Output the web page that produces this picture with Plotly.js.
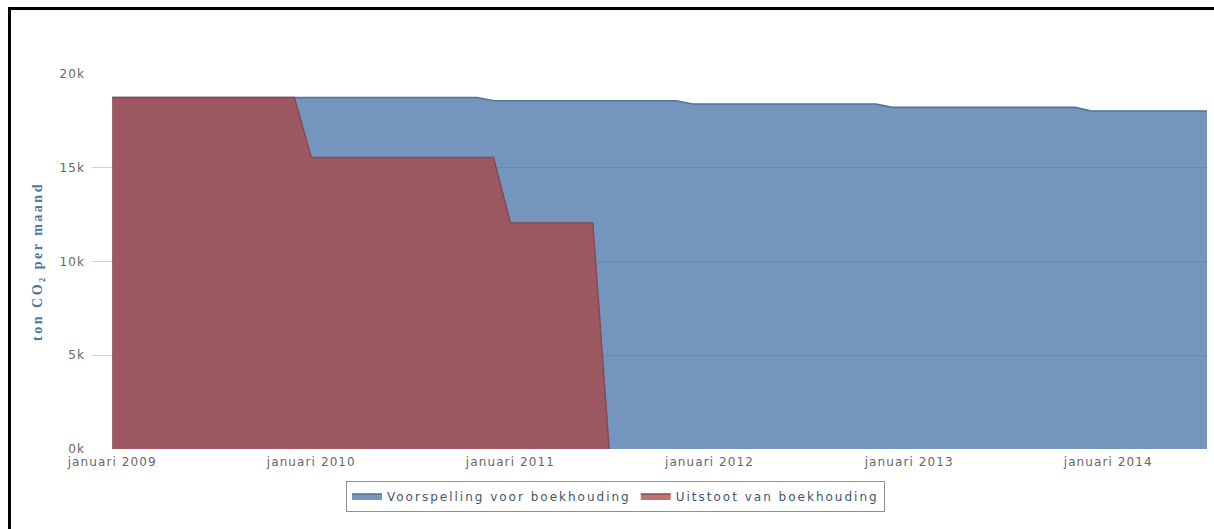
<!DOCTYPE html>
<html>
<head>
<meta charset="utf-8">
<script src="https://cdn.plot.ly/plotly-3.0.1.min.js"></script>
<style>
  html, body { margin: 0; padding: 0; background: #fff; overflow: hidden; }
  #wrap { position: relative; width: 1214px; height: 529px; overflow: hidden; }
  #chart { position: absolute; left: 0; top: 0; width: 1214px; height: 529px; }
  #frame { position: absolute; left: 8px; top: 7px; width: 1400px; height: 700px;
           border-left: 3px solid #000; border-top: 3px solid #000; pointer-events: none; }
  .ytitle { letter-spacing: 2.5px; }
  .xtick text, .ytick text { letter-spacing: 1.1px; }
  .legendtext { letter-spacing: 2px; }
</style>
</head>
<body>
<div id="wrap">
  <div id="chart"></div>
  <div id="frame"></div>
</div>
<script>
// Monthly points, januari 2009 .. juli 2014
const months = [
  '2009-01','2009-02','2009-03','2009-04','2009-05','2009-06','2009-07','2009-08','2009-09','2009-10','2009-11','2009-12',
  '2010-01','2010-02','2010-03','2010-04','2010-05','2010-06','2010-07','2010-08','2010-09','2010-10','2010-11','2010-12',
  '2011-01','2011-02','2011-03','2011-04','2011-05','2011-06','2011-07','2011-08','2011-09','2011-10','2011-11','2011-12',
  '2012-01','2012-02','2012-03','2012-04','2012-05','2012-06','2012-07','2012-08','2012-09','2012-10','2012-11','2012-12',
  '2013-01','2013-02','2013-03','2013-04','2013-05','2013-06','2013-07','2013-08','2013-09','2013-10','2013-11','2013-12',
  '2014-01','2014-02','2014-03','2014-04','2014-05','2014-06','2014-07'
];

// Voorspelling voor boekhouding (ton CO2 per maand)
const voorspelling = [
  18750,18750,18750,18750,18750,18750,18750,18750,18750,18750,18750,18750,
  18750,18750,18750,18750,18750,18750,18750,18750,18750,18750,18750,18570,
  18570,18570,18570,18570,18570,18570,18570,18570,18570,18570,18570,18400,
  18400,18400,18400,18400,18400,18400,18400,18400,18400,18400,18400,18220,
  18220,18220,18220,18220,18220,18220,18220,18220,18220,18220,18220,18030,
  18030,18030,18030,18030,18030,18030,18030
];

// Uitstoot van boekhouding (ton CO2 per maand), januari 2009 .. juli 2011
const uitstoot = [
  18750,18750,18750,18750,18750,18750,18750,18750,18750,18750,18750,18750,
  15550,15550,15550,15550,15550,15550,15550,15550,15550,15550,15550,15550,
  12050,12050,12050,12050,12050,12050,0
];

const seriesNames = ['Voorspelling voor boekhouding', 'Uitstoot van boekhouding'];

const xTickVals = ['2009-01-01','2010-01-01','2011-01-01','2012-01-01','2013-01-01','2014-01-01'];
const xTickText = ['januari 2009','januari 2010','januari 2011','januari 2012','januari 2013','januari 2014'];
const yTickVals = [0, 5000, 10000, 15000, 20000];
const yTickText = ['0k', '5k', '10k', '15k', '20k'];

const traces = [
  {
    type: 'scatter', mode: 'lines', name: seriesNames[0],
    x: months, y: voorspelling,
    fill: 'tozeroy', fillcolor: 'rgba(69,114,167,0.75)',
    line: { color: '#52729a', width: 1.6 },
    hoverinfo: 'x+y'
  },
  {
    type: 'scatter', mode: 'lines', name: seriesNames[1],
    x: months.slice(0, uitstoot.length), y: uitstoot,
    fill: 'tozeroy', fillcolor: 'rgba(170,70,67,0.75)',
    line: { color: '#8a4a55', width: 1.6 },
    hoverinfo: 'x+y'
  }
];

const layout = {
  width: 1214, height: 529,
  margin: { l: 92, r: 7, t: 74, b: 80 },
  paper_bgcolor: '#ffffff', plot_bgcolor: '#ffffff',
  font: { family: 'DejaVu Sans, sans-serif', size: 12, color: '#666666' },
  showlegend: true,
  xaxis: {
    type: 'date',
    range: ['2008-11-25', '2014-07-01'],
    tickmode: 'array', tickvals: xTickVals, ticktext: xTickText,
    showgrid: false, zeroline: false, showline: false, ticks: '',
    ticklabelstandoff: 4,
    tickfont: { family: 'DejaVu Sans, sans-serif', size: 12, color: '#666666' },
    fixedrange: true
  },
  yaxis: {
    range: [0, 20000],
    tickmode: 'array', tickvals: yTickVals, ticktext: yTickText,
    showgrid: true, gridcolor: '#cfcfcf', gridwidth: 1,
    zeroline: false, showline: false, ticks: '',
    ticklabelstandoff: 6,
    tickfont: { family: 'DejaVu Sans, sans-serif', size: 12, color: '#666666' },
    title: {
      text: 'ton CO₂ per maand',
      font: { family: 'Liberation Serif, serif', size: 14, color: '#4d759e', weight: 'bold' },
      standoff: 13
    },
    fixedrange: true
  },
  legend: {
    orientation: 'h',
    x: 0.4695, xanchor: 'center',
    y: -0.084, yanchor: 'top',
    bgcolor: '#ffffff', bordercolor: '#909090', borderwidth: 1,
    font: { family: 'DejaVu Sans, sans-serif', size: 12, color: '#3E576F' },
    itemwidth: 30,
    traceorder: 'normal'
  }
};

Plotly.newPlot('chart', traces, layout, { displayModeBar: false, staticPlot: true });
</script>
</body>
</html>
